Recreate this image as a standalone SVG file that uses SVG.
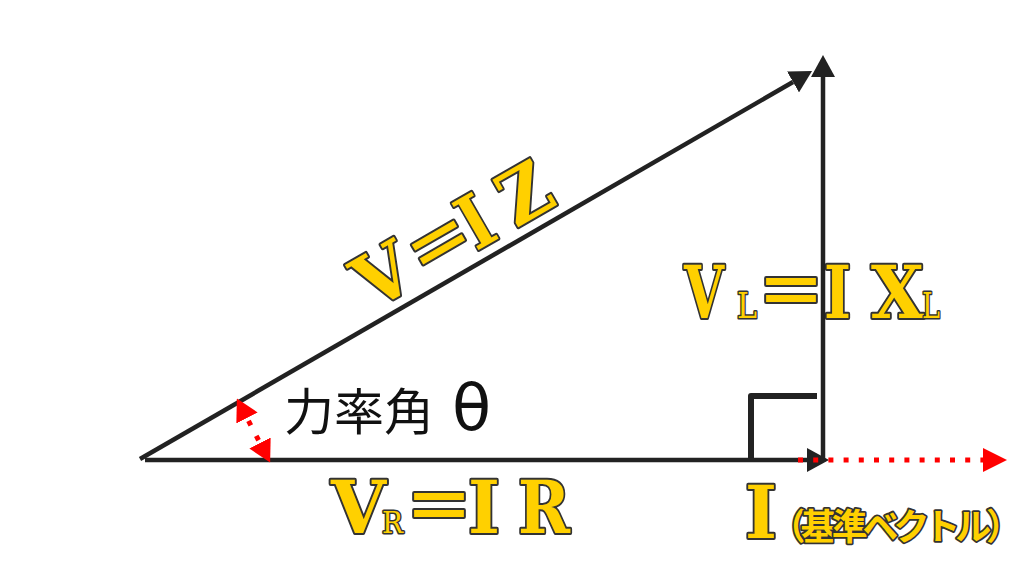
<svg xmlns="http://www.w3.org/2000/svg" width="1024" height="579" viewBox="0 0 1024 579">
<style>
.y{fill:#FFD000;stroke:#333;stroke-width:4;stroke-linejoin:round;paint-order:stroke;font-family:"DejaVu Serif","Liberation Serif",serif;font-weight:bold}
.cn{font-family:"DejaVu Serif Condensed","DejaVu Serif",serif}
.cjk{font-family:"Noto Sans CJK JP",sans-serif;font-weight:bold}
.sub{font-weight:normal;stroke-width:3}
.blk{stroke:#222;stroke-width:4.5;fill:none}
.red{stroke:#FF0000;stroke-width:5;fill:none}
.lbl{font-family:"Noto Sans CJK JP",sans-serif;fill:#111}
</style>
<defs>
<marker id="ab" markerUnits="userSpaceOnUse" viewBox="0 0 22 24" markerWidth="22" markerHeight="24" refX="0" refY="12" orient="auto"><path d="M0,0 L22,12 L0,24 z" fill="#222"/></marker>
<marker id="ar" markerUnits="userSpaceOnUse" viewBox="0 0 24 24" markerWidth="24" markerHeight="24" refX="0" refY="12" orient="auto"><path d="M0,0 L24,12 L0,24 z" fill="#FF0000"/></marker>
<marker id="ar2" markerUnits="userSpaceOnUse" viewBox="0 0 22 24" markerWidth="22" markerHeight="24" refX="0" refY="12" orient="auto-start-reverse"><path d="M0,0 L22,12 L0,24 z" fill="#FF0000"/></marker>
</defs>
<rect width="1024" height="579" fill="#fff"/>

<g id="label-v-iz" transform="translate(373,311) rotate(-30)">
<text class="y" font-size="74" y="0"><tspan x="-1" textLength="55" lengthAdjust="spacingAndGlyphs">V</tspan><tspan class="cjk" x="57" font-size="68">＝</tspan><tspan x="119" textLength="29" lengthAdjust="spacingAndGlyphs">I</tspan><tspan> </tspan><tspan x="165" textLength="50" lengthAdjust="spacingAndGlyphs">Z</tspan></text>
</g>

<g id="label-vl">
<text class="y" font-size="73" y="318"><tspan class="cn" x="684" textLength="40" lengthAdjust="spacingAndGlyphs">V</tspan><tspan class="sub" x="737" font-size="36" textLength="20" lengthAdjust="spacingAndGlyphs">L</tspan><tspan class="cjk" x="756" font-size="70">＝</tspan><tspan class="cn" x="824" textLength="27" lengthAdjust="spacingAndGlyphs">I</tspan><tspan> </tspan><tspan x="871" textLength="53" lengthAdjust="spacingAndGlyphs">X</tspan><tspan class="sub" x="922" font-size="36" textLength="18" lengthAdjust="spacingAndGlyphs">L</tspan></text>
</g>

<g id="label-vr">
<text class="y" font-size="73" y="533"><tspan x="331" textLength="55" lengthAdjust="spacingAndGlyphs">V</tspan><tspan class="sub" x="382" font-size="29" textLength="21" lengthAdjust="spacingAndGlyphs">R</tspan><tspan class="cjk" x="404" font-size="70">＝</tspan><tspan x="468" textLength="32" lengthAdjust="spacingAndGlyphs">I</tspan><tspan> </tspan><tspan x="518" textLength="52" lengthAdjust="spacingAndGlyphs">R</tspan></text>
</g>

<g id="label-i">
<text class="y" font-size="73" x="745" y="538" textLength="32" lengthAdjust="spacingAndGlyphs">I</text>
<text class="y cjk" font-size="36" x="770" y="540" style="stroke-width:3.5" textLength="252" lengthAdjust="spacing">（基準ベクトル）</text>
</g>

<g id="label-angle">
<text class="lbl" font-size="50" x="284" y="430">力率角<tspan font-family="DejaVu Sans, sans-serif" font-size="64" x="452">θ</tspan></text>
</g>

<g id="connectors">
<path id="right-angle" d="M751,460 L751,396 L817,396" class="blk" style="stroke-width:6" stroke-linejoin="round"/>
<line x1="145" y1="460" x2="807" y2="460" class="blk" marker-end="url(#ab)"/>
<line x1="823" y1="462" x2="823" y2="77" class="blk" marker-end="url(#ab)"/>
<line x1="140" y1="459" x2="793" y2="82" class="blk" marker-end="url(#ab)"/>
<line x1="798" y1="460" x2="983" y2="460" class="red" stroke-dasharray="5 10.2" marker-end="url(#ar)"/>
<line x1="247" y1="418" x2="260" y2="443" class="red" stroke-dasharray="5 11.8" stroke-dashoffset="-3.3" marker-start="url(#ar2)" marker-end="url(#ar2)"/>
</g>
</svg>
